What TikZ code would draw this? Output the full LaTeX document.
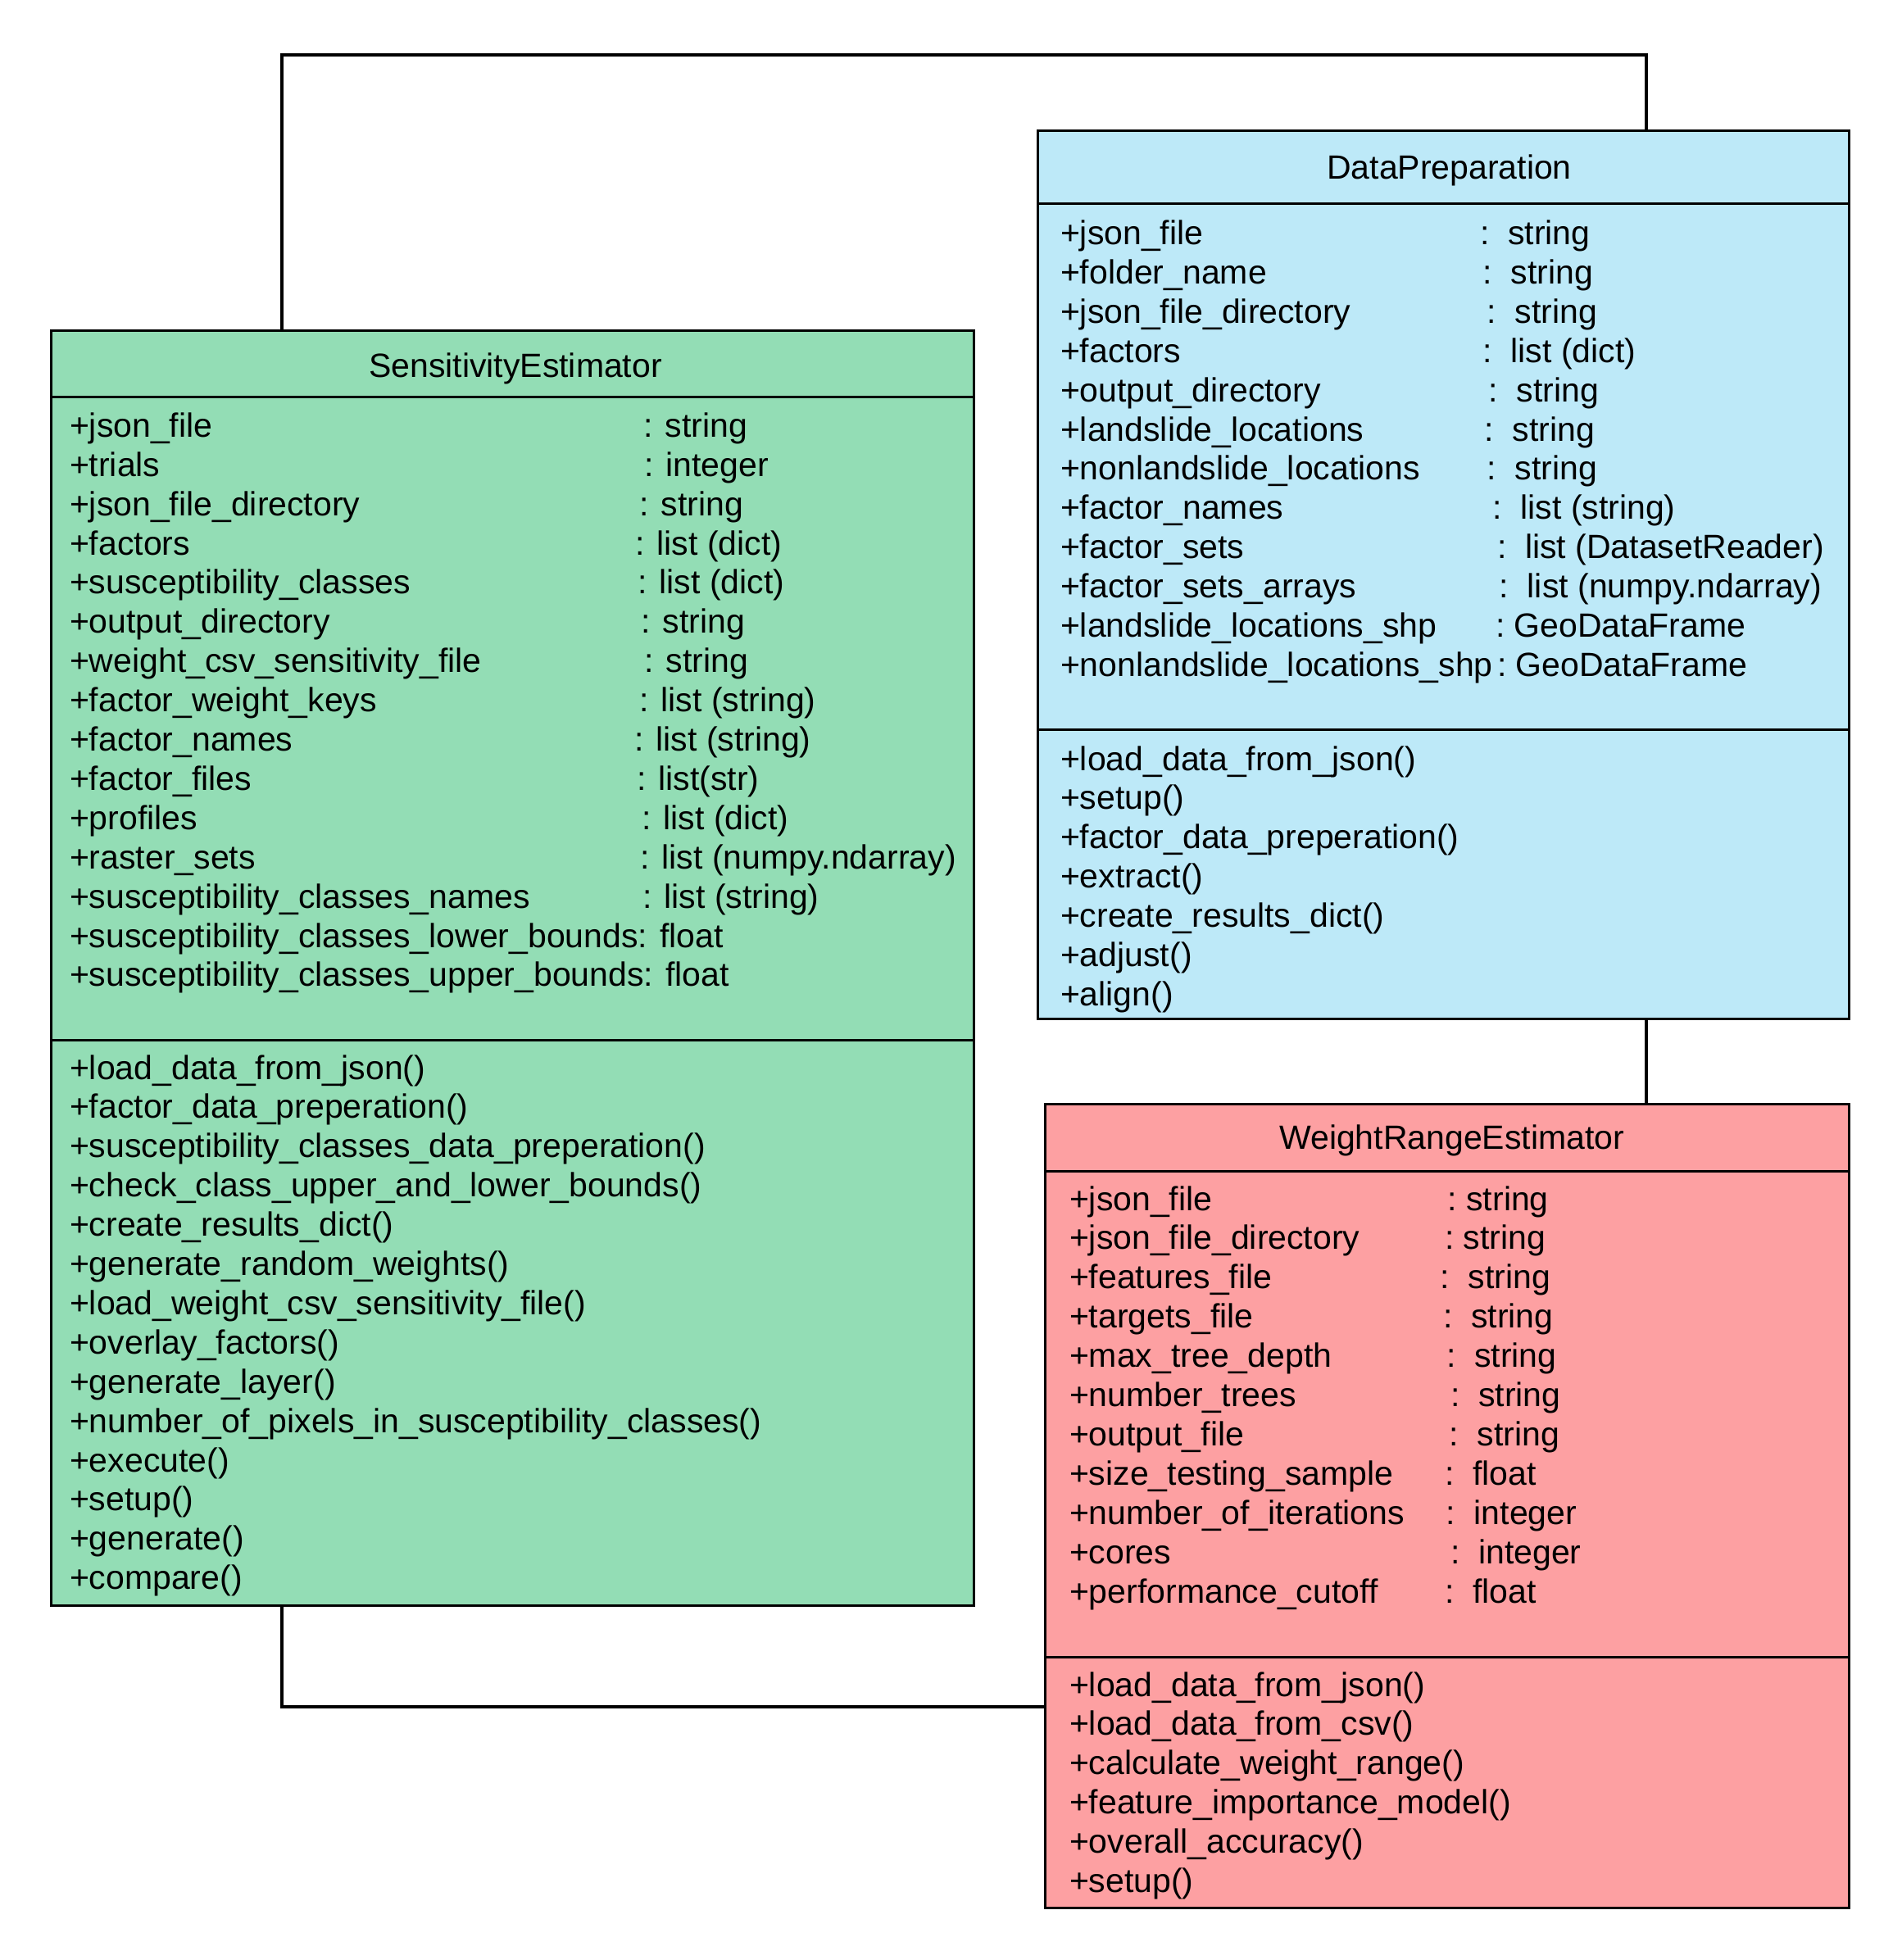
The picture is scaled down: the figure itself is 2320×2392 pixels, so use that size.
\documentclass[tikz,border=0pt]{standalone}
\usepackage{fontspec}
\setmainfont{Liberation Sans}
\definecolor{segreen}{HTML}{93DDB5}
\definecolor{dpblue}{HTML}{BDE9F8}
\definecolor{wrred}{HTML}{FDA0A2}
\begin{document}
\begin{tikzpicture}[x=1pt,y=-1pt,
  classbox/.style={draw=black,line width=3pt,anchor=north west,inner sep=0pt,outer sep=0pt},
  sepline/.style={line width=3pt},
  conn/.style={line width=3.4pt},
  txt/.style={anchor=base west,inner sep=0pt,outer sep=0pt,font=\fontsize{41}{48}\selectfont},
  ttl/.style={anchor=base,inner sep=0pt,outer sep=0pt,font=\fontsize{41}{48}\selectfont}]
\useasboundingbox (0,0) rectangle (2320,2392);

% ---------- boxes ----------
\node[classbox,fill=segreen,minimum width=1125.3pt,minimum height=1555.3pt] (se) at (62.7,403.7) {};
\node[classbox,fill=dpblue,minimum width=990pt,minimum height=1083pt] (dp) at (1266,160) {};
\node[classbox,fill=wrred,minimum width=981pt,minimum height=981pt] (wr) at (1275,1347) {};

\draw[sepline] (62.7,484) -- (1188,484);
\draw[sepline] (62.7,1269) -- (1188,1269);
\draw[sepline] (1266,249) -- (2256,249);
\draw[sepline] (1266,890.6) -- (2256,890.6);
\draw[sepline] (1275,1429) -- (2256,1429);
\draw[sepline] (1275,2022) -- (2256,2022);

% ---------- titles ----------
\node[ttl] (se-title) at (629,460) {SensitivityEstimator};
\node[ttl] (dp-title) at (1768.5,219) {DataPreparation};
\node[ttl] (wr-title) at (1771.7,1402) {WeightRangeEstimator};

% ---------- SensitivityEstimator attributes ----------
\foreach \n/\cx/\ty [count=\i from 0] in {
  {+json\_file}/785/{: string},
  {+trials}/786/{: integer},
  {+json\_file\_directory}/780/{: string},
  {+factors}/775/{: list (dict)},
  {+susceptibility\_classes}/778/{: list (dict)},
  {+output\_directory}/782/{: string},
  {+weight\_csv\_sensitivity\_file}/786/{: string},
  {+factor\_weight\_keys}/780/{: list (string)},
  {+factor\_names}/774/{: list (string)},
  {+factor\_files}/777/{: list(str)},
  {+profiles}/783/{: list (dict)},
  {+raster\_sets}/781/{: list (numpy.ndarray)},
  {+susceptibility\_classes\_names}/784/{: list (string)}}
{
  \node[txt] (se-n\i) at (85,533.3+47.9*\i) {\n};
  \node[txt] (se-t\i) at (\cx,533.3+47.9*\i) {\ty};
}
\node[txt] (se-n13) at (85,533.3+47.9*13) {+susceptibility\_classes\_lower\_bounds: float};
\node[txt] (se-n14) at (85,533.3+47.9*14) {+susceptibility\_classes\_upper\_bounds: float};

% ---------- SensitivityEstimator methods ----------
\foreach \m [count=\i from 0] in {
  {+load\_data\_from\_json()},
  {+factor\_data\_preperation()},
  {+susceptibility\_classes\_data\_preperation()},
  {+check\_class\_upper\_and\_lower\_bounds()},
  {+create\_results\_dict()},
  {+generate\_random\_weights()},
  {+load\_weight\_csv\_sensitivity\_file()},
  {+overlay\_factors()},
  {+generate\_layer()},
  {+number\_of\_pixels\_in\_susceptibility\_classes()},
  {+execute()},
  {+setup()},
  {+generate()},
  {+compare()}}
{
  \node[txt] (se-m\i) at (85,1317+47.9*\i) {\m};
}

% ---------- DataPreparation attributes ----------
\foreach \n/\cx/\ty [count=\i from 0] in {
  {+json\_file}/1806/{:~~string},
  {+folder\_name}/1809.5/{:~~string},
  {+json\_file\_directory}/1814.5/{:~~string},
  {+factors}/1809.5/{:~~list (dict)},
  {+output\_directory}/1816.6/{:~~string},
  {+landslide\_locations}/1811.8/{:~~string},
  {+nonlandslide\_locations}/1814.5/{:~~string},
  {+factor\_names}/1821.4/{:~~list (string)},
  {+factor\_sets}/1827/{:~~list (DatasetReader)},
  {+factor\_sets\_arrays}/1829.7/{:~~list (numpy.ndarray)},
  {+landslide\_locations\_shp}/1825/{:~GeoDataFrame},
  {+nonlandslide\_locations\_shp}/1827/{:~GeoDataFrame}}
{
  \node[txt] (dp-n\i) at (1294,298.5+47.9*\i) {\n};
  \node[txt] (dp-t\i) at (\cx,298.5+47.9*\i) {\ty};
}

% ---------- DataPreparation methods ----------
\foreach \m [count=\i from 0] in {
  {+load\_data\_from\_json()},
  {+setup()},
  {+factor\_data\_preperation()},
  {+extract()},
  {+create\_results\_dict()},
  {+adjust()},
  {+align()}}
{
  \node[txt] (dp-m\i) at (1294,940+47.9*\i) {\m};
}

% ---------- WeightRangeEstimator attributes ----------
\foreach \n/\cx/\ty [count=\i from 0] in {
  {+json\_file}/1766.7/{:~string},
  {+json\_file\_directory}/1763/{:~string},
  {+features\_file}/1757.7/{:~~string},
  {+targets\_file}/1761/{:~~string},
  {+max\_tree\_depth}/1765/{:~~string},
  {+number\_trees}/1770/{:~~string},
  {+output\_file}/1768.7/{:~~string},
  {+size\_testing\_sample}/1763/{:~~float},
  {+number\_of\_iterations}/1764.6/{:~~integer},
  {+cores}/1770/{:~~integer},
  {+performance\_cutoff}/1763/{:~~float}}
{
  \node[txt] (wr-n\i) at (1305,1477+47.9*\i) {\n};
  \node[txt] (wr-t\i) at (\cx,1477+47.9*\i) {\ty};
}

% ---------- WeightRangeEstimator methods ----------
\foreach \m [count=\i from 0] in {
  {+load\_data\_from\_json()},
  {+load\_data\_from\_csv()},
  {+calculate\_weight\_range()},
  {+feature\_importance\_model()},
  {+overall\_accuracy()},
  {+setup()}}
{
  \node[txt] (wr-m\i) at (1305,2070+47.9*\i) {\m};
}

% ---------- connectors ----------
\coordinate (topL) at (344,67);
\coordinate (topR) at (2009,67);
\coordinate (botL) at (344,2083);
\draw[conn] (se.north -| topL) -- (topL) -- (topR) -- (dp.north -| topR);
\draw[conn] (dp.south -| topR) -- (wr.north -| topR);
\draw[conn] (se.south -| botL) -- (botL) -- (botL -| wr.west);
\end{tikzpicture}
\end{document}
